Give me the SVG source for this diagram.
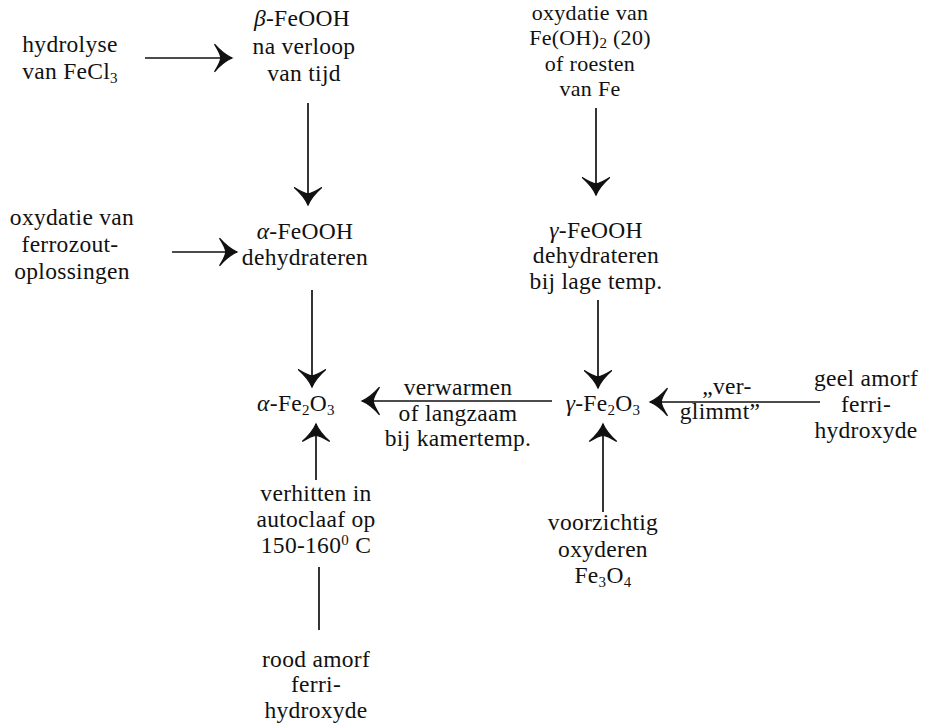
<svg xmlns="http://www.w3.org/2000/svg" width="941" height="727" viewBox="0 0 941 727">
<defs>
<style>
text{font-family:"Liberation Serif","DejaVu Serif",serif;font-size:23.5px;fill:#111;text-anchor:middle;letter-spacing:0.3px}
.sm text{font-size:22px}
.g{font-style:italic}
.s{font-size:15px}
.c line{stroke:#111;stroke-width:1.7;fill:none}
.a{marker-end:url(#ah)}
</style>
<marker id="ah" markerUnits="userSpaceOnUse" markerWidth="30" markerHeight="30" viewBox="-16 -12 20 24" refX="1" refY="0" orient="auto">
<path d="M1,0 Q-6,-3 -13,-11 Q-8,-3 -8,0 Q-8,3 -13,11 Q-6,3 1,0 Z" fill="#111" stroke="#111" stroke-width="1"/>
</marker>
</defs>
<rect width="941" height="727" fill="#fff"/>
<g class="c" id="connectors">
<line class="a" x1="145" y1="58" x2="232" y2="58"/>
<line class="a" x1="308" y1="103" x2="308" y2="205"/>
<line class="a" x1="596" y1="108" x2="596" y2="195"/>
<line class="a" x1="172" y1="252" x2="237" y2="252"/>
<line class="a" x1="312" y1="290" x2="312" y2="387"/>
<line class="a" x1="598" y1="300" x2="598" y2="388"/>
<line class="a" x1="552" y1="401" x2="362" y2="401"/>
<line class="a" x1="820" y1="402" x2="650" y2="402"/>
<line class="a" x1="316" y1="480" x2="316" y2="424"/>
<line x1="319" y1="567" x2="319" y2="630"/>
<line class="a" x1="603" y1="512" x2="603" y2="424"/>
</g>
<g id="hydrolyse"><text x="70" y="52">hydrolyse</text><text x="70" y="79">van FeCl<tspan class="s" dy="4">3</tspan></text></g>
<g id="beta"><text x="302" y="26"><tspan class="g">β</tspan>-FeOOH</text><text x="304" y="54">na verloop</text><text x="304" y="81">van tijd</text></g>
<g id="oxFeOH" class="sm"><text x="590" y="20">oxydatie van</text><text x="590" y="45">Fe(OH)<tspan class="s" dy="3">2</tspan><tspan dy="-3"> (20)</tspan></text><text x="590" y="71">of roesten</text><text x="590" y="96">van Fe</text></g>
<g id="oxFerro"><text x="72" y="225">oxydatie van</text><text x="70" y="252">ferrozout-</text><text x="72" y="279">oplossingen</text></g>
<g id="alphaFeOOH"><text x="305" y="239"><tspan class="g">α</tspan>-FeOOH</text><text x="305" y="265">dehydrateren</text></g>
<g id="gammaFeOOH"><text x="596" y="238"><tspan class="g">γ</tspan>-FeOOH</text><text x="596" y="263">dehydrateren</text><text x="596" y="289">bij lage temp.</text></g>
<g id="alphaFe2O3"><text x="296" y="411"><tspan class="g">α</tspan>-Fe<tspan class="s" dy="4">2</tspan><tspan dy="-4">O</tspan><tspan class="s" dy="4">3</tspan></text></g>
<g id="lblVerwarmen"><text x="458" y="395">verwarmen</text><text x="458" y="421">of langzaam</text><text x="458" y="446">bij kamertemp.</text></g>
<g id="gammaFe2O3"><text x="603" y="411"><tspan class="g">γ</tspan>-Fe<tspan class="s" dy="4">2</tspan><tspan dy="-4">O</tspan><tspan class="s" dy="4">3</tspan></text></g>
<g id="lblVerglimmt"><text x="727" y="394">„ver-</text><text x="720" y="419">glimmt”</text></g>
<g id="geel"><text x="866" y="386">geel amorf</text><text x="866" y="412">ferri-</text><text x="866" y="438">hydroxyde</text></g>
<g id="lblVerhitten"><text x="316" y="501">verhitten in</text><text x="316" y="527">autoclaaf op</text><text x="316" y="553">150-160<tspan class="s" dy="-8">0</tspan><tspan dy="8"> C</tspan></text></g>
<g id="rood"><text x="316" y="667">rood amorf</text><text x="316" y="692">ferri-</text><text x="316" y="718">hydroxyde</text></g>
<g id="fe3o4"><text x="603" y="530">voorzichtig</text><text x="603" y="557">oxyderen</text><text x="603" y="583">Fe<tspan class="s" dy="4">3</tspan><tspan dy="-4">O</tspan><tspan class="s" dy="4">4</tspan></text></g>
</svg>
